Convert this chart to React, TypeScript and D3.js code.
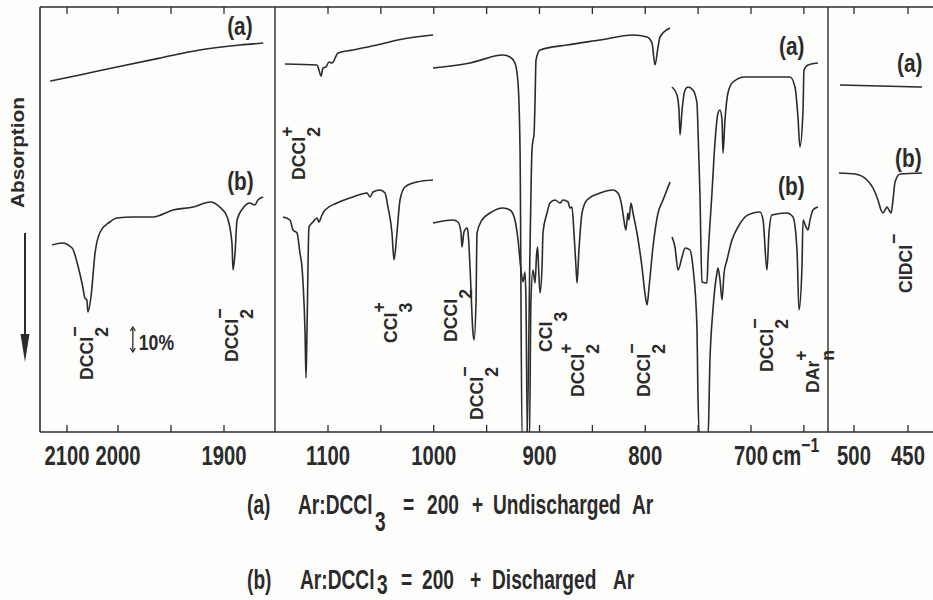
import React from "react";
import * as d3 from "d3";

const INK = "#2b2b2b";
const FONT = "'Liberation Sans', Arial, Helvetica, sans-serif";

// ---------- axis ticks (cm-1) ----------
const p1Ticks = [2100, 2000, 1950, 1900];
const p1Labels = [2100, 2000, 1900];
const p2Ticks = [1100, 1050, 1000, 950, 900, 850, 800, 750, 700, 650];
const p2Labels = [1100, 1000, 900, 800, 700];
const p3Ticks = [500, 450];
const p3Labels = [500, 450];

// ---------- spectra: [wavenumber cm-1, signal in % (10% bar = 10 units)] ----------
const p1A = [[2133, 140.4], [2075, 142.8], [2002, 146], [1960, 149.6], [1923, 152.8], [1885, 154.8], [1863, 155.6]];
const p1B = [[2129, 74.8], [2110, 75.6], [2090, 73.6], [2078, 66], [2069, 58], [2065, 53.6], [2061, 52.8], [2059, 48], [2053, 54], [2045, 71.6], [2035, 80], [2016, 84], [2002, 85.6], [1986, 86], [1967, 86], [1948, 88.8], [1929, 90], [1913, 92], [1904, 90], [1897, 86], [1892.5, 75.6], [1891.5, 64.8], [1889.6, 71.6], [1887.7, 84.8], [1882, 89.6], [1875.5, 91.6], [1871, 90.8], [1868, 92.8], [1863, 94]];

const p2A1 = [[1140.7, 147.2], [1110.4, 146.8], [1108.5, 144.8], [1106.6, 142.4], [1104.7, 145.6], [1101.9, 146], [1099.1, 148], [1096.2, 147.6], [1090.5, 151.6], [1076.4, 152.8], [1053.7, 154.8], [1029.1, 157.2], [1000.7, 158.8]];
const p2A2 = [[1000.7, 145.6], [965.7, 147.6], [934.5, 150.8], [927.9, 150], [923.2, 147.6], [920.3, 139.6], [918.4, 112.8], [916.5, -3], [911.8, -3], [909, 72.8], [907.1, 112.8], [906.1, 116.8], [905.2, 118.8], [904.2, 132.8], [903.3, 148.8], [899.5, 152.8], [874, 154.8], [842.8, 156.8], [811.6, 158.8], [798.3, 158], [793.6, 155.6], [790.8, 146.8], [787.9, 154], [786, 158], [776.6, 161.6]];
const p2A3 = [[774.7, 138], [770, 134.8], [768.1, 128.8], [767.1, 118.8], [765.2, 128.8], [762.4, 136.8], [759.6, 138], [754.9, 136.8], [751.1, 131.6], [750.2, 122], [748.3, 95.6], [746.4, 60], [741.6, 59.6], [740.7, 68.8], [736.9, 95.6], [734.1, 115.6], [731.2, 127.6], [729.3, 128.8], [727.4, 124.8], [726.5, 111.6], [724.6, 124.8], [721.8, 135.6], [717, 140], [705.7, 142], [663.1, 142], [658.4, 138], [655.6, 126], [653.7, 114], [650.8, 128.8], [649.9, 144.8], [646.1, 146.8], [636.7, 147.6]];

const p2B1 = [[1142.6, 86], [1135.9, 84.8], [1133.1, 80.8], [1129.3, 79.6], [1126.5, 71.6], [1124.6, 66], [1123.6, 59.6], [1121.7, 39.6], [1120.8, 21.6], [1119.9, 39.6], [1118, 82], [1114.2, 84], [1110.4, 85.6], [1108.5, 84], [1105.7, 86.8], [1102.8, 88.8], [1091.5, 91.6], [1076.4, 94], [1063.1, 95.6], [1060.3, 94], [1057.4, 96], [1050.8, 96.8], [1046.1, 95.6], [1043.3, 90], [1039.5, 79.6], [1037.6, 68.8], [1034.8, 79.6], [1031.9, 92.8], [1027.2, 98], [1015.8, 100], [1000.7, 100.8]];
const p2B2 = [[1000.7, 83.6], [981.8, 84.8], [977.1, 84], [974.2, 79.6], [973.3, 74], [971.4, 80], [968.6, 81.6], [967.6, 80], [965.7, 66], [962.9, 39.6], [961.9, 36.8], [960, 52.8], [959.1, 79.6], [954.4, 84.8], [946.8, 87.6], [934.5, 89.6], [927.9, 88.8], [923.2, 84.8], [920.3, 76.8], [917.5, 64.8], [915.6, 60], [913.7, 64], [912.8, 52.8], [911.4, -3], [909.5, -3], [908.1, 52.8], [906.1, 64.8], [904.2, 59.6], [902.8, 70.8], [901.8, 74], [900.9, 66], [899.5, 55.6], [897.6, 66], [896.7, 79.6], [892.9, 87.6], [890.1, 91.6], [885.3, 92.8], [880.6, 91.6], [877.8, 92.8], [873, 92], [871.2, 89.6], [869.3, 90], [867.4, 79.6], [865.5, 66], [864.5, 59.6], [862.7, 72.8], [859.8, 87.6], [855.1, 92.8], [842.8, 95.6], [830.5, 96.8], [825.8, 95.6], [822, 90], [820.2, 84.8], [818.3, 80.8], [816.4, 87.6], [815.4, 84.8], [813.5, 91.6], [811.6, 87.6], [807.8, 79.6], [803.1, 66], [800.3, 55.6], [798.3, 50.8], [796.4, 58], [792.7, 74], [787.9, 87.6], [783.2, 92.8], [776.6, 100]];
const p2B3 = [[774.7, 78], [771.9, 74], [769, 64.8], [765.2, 70], [762.4, 73.6], [757.7, 72.8], [754.9, 66], [751.1, 42], [750.2, 15.6], [748.3, -3], [740.7, -3], [738.8, 28.8], [736, 48.8], [732.2, 63.6], [731.2, 65.6], [729.3, 60.8], [727.4, 52.8], [725.5, 63.6], [722.7, 68.8], [718, 76.8], [712.3, 82], [705.7, 86], [698.1, 87.6], [691.5, 88], [688.6, 84.8], [684.9, 64.8], [683, 79.6], [680.2, 86.8], [666, 87.6], [660.3, 86], [656.5, 72.8], [654.6, 48.8], [651.8, 66], [650.8, 84.8], [648, 82], [646.1, 80.8], [644.2, 84.8], [641.4, 88.8], [636.7, 90]];

const p3A = [[513, 138.8], [476, 138.4], [437, 138]];
const p3B = [[513.9, 103.6], [499.1, 103.2], [488, 100.8], [482.4, 97.6], [477.8, 92.8], [475, 88.8], [473.1, 87.6], [471.3, 88.8], [469.4, 90], [467.6, 88.8], [465.7, 87.6], [463.9, 92.8], [462, 100], [457.4, 103.2], [437, 103.6]];

// band assignments: [panel, wavenumber, signal, base, sub, sup]
const bandLabels = [
  [1, 2049, 20.8, "DCCl", "2", "\u2212"],
  [1, 1887, 28, "DCCl", "2", "\u2212"],
  [2, 1121.7, 100.8, "DCCl", "2", "+"],
  [2, 1034.8, 35.6, "CCl", "3", "+"],
  [2, 978, 36, "DCCl", "2", ""],
  [2, 953.4, 4.8, "DCCl", "2", "\u2212"],
  [2, 888.2, 32, "CCl", "3", ""],
  [2, 857.9, 14, "DCCl", "2", "+"],
  [2, 795.5, 14, "DCCl", "2", "\u2212"],
  [2, 679.2, 24, "DCCl", "2", "\u2212"],
  [2, 635.7, 15.6, "DAr", "n", "+"],
  [3, 446.3, 55.6, "ClDCl", "", "\u2212"],
];
// trace labels: [panel, wavenumber, signal, text]
const traceLabels = [
  [1, 1897, 158.8, "(a)"], [1, 1897, 96.8, "(b)"],
  [2, 673.5, 150.8, "(a)"], [2, 674.4, 94.8, "(b)"],
  [3, 460.2, 144, "(a)"], [3, 462, 106, "(b)"],
];
// legend rows: [text, x, baseline shift]
const legendA = [["(a)", 247, 0], ["Ar:DCCl", 298, 0], ["3", 375, 17], ["=", 403, 0], ["200", 427, 0], ["+", 472, 0], ["Undischarged", 493, 0], ["Ar", 632, 0]];
const legendB = [["(b)", 247, 0], ["Ar:DCCl", 300, 0], ["3", 377, 5], ["=", 401, 0], ["200", 422, 0], ["+", 470, 0], ["Discharged", 492, 0], ["Ar", 613, 0]];

// ---------- scales ----------
const x1 = d3.scaleLinear().domain([2100, 2000, 1900]).range([67, 118, 224]);
const x2 = d3.scaleLinear().domain([1100, 700]).range([328, 751]);
const x3 = d3.scaleLinear().domain([500, 450]).range([854, 908]);
const y = d3.scaleLinear().domain([0, 170]).range([432, 7]);
const xs: any = { 1: x1, 2: x2, 3: x3 };

const FR = { left: 40, right: 933, top: 7, bottom: 432 };
const DIVIDERS = [275, 828];

const panels = [
  { sc: x1, ticks: p1Ticks, labels: p1Labels, series: [p1A, p1B] },
  { sc: x2, ticks: p2Ticks, labels: p2Labels, series: [p2A1, p2A2, p2A3, p2B1, p2B2, p2B3] },
  { sc: x3, ticks: p3Ticks, labels: p3Labels, series: [p3A, p3B] },
];

function SText({ x, y, sx = 0.75, size = 27, anchor = "start", children }: any) {
  return (
    <text transform={`translate(${x},${y}) scale(${sx},1)`} textAnchor={anchor} fontSize={size}
      fontFamily={FONT} fontWeight="bold" fill={INK}>{children}</text>
  );
}

function RotLabel({ x, y, base, sub, sup }: any) {
  const fs = 19;
  const subDy = 15;
  const supDy = -12;
  const subW = sub === "n" ? 0.611 * fs : 0.556 * fs;
  return (
    <text transform={`translate(${x},${y}) rotate(-90) scale(0.93,1)`} fontSize={fs}
      fontFamily={FONT} fontWeight="bold" fill={INK}>
      {base}
      {sub ? <tspan dy={subDy}>{sub}</tspan> : null}
      {sup ? <tspan dx={sub ? -subW : 1} dy={sub ? supDy - subDy : supDy}>{sup}</tspan> : null}
    </text>
  );
}

function LegendRow({ items, base }: any) {
  const sx = 0.71;
  return (
    <text transform={`scale(${sx},1)`} fontSize={27} fontFamily={FONT} fontWeight="bold" fill={INK}>
      {items.map((it: any, i: number) => (
        <tspan key={i} x={it[1] / sx} y={base + it[2]}>{it[0]}</tspan>
      ))}
    </text>
  );
}

export default function App() {
  const mk = (sc: any) =>
    d3.line<number[]>().x((d) => sc(d[0])).y((d) => y(d[1])).curve(d3.curveMonotoneX);

  const tickLabelY = 465;
  const barX = x1(1986);

  return (
    <svg width={933} height={600} style={{ position: "absolute", left: 0, top: 0, background: "#fdfdfb" }}>
      <defs>
        <clipPath id="plotclip">
          <rect x={FR.left} y={FR.top} width={FR.right - FR.left} height={FR.bottom - FR.top} />
        </clipPath>
      </defs>

      {/* frame */}
      <g stroke={INK} strokeWidth={1.6} fill="none">
        <line x1={FR.left} y1={FR.top} x2={FR.right} y2={FR.top} />
        <line x1={FR.left} y1={FR.bottom} x2={FR.right} y2={FR.bottom} />
        <line x1={FR.left} y1={FR.top} x2={FR.left} y2={FR.bottom} />
        {DIVIDERS.map((d) => (
          <line key={d} x1={d} y1={FR.top} x2={d} y2={FR.bottom} strokeWidth={1.4} />
        ))}
      </g>

      {/* ticks and tick labels */}
      {panels.map((p, i) => (
        <g key={i}>
          {p.ticks.map((t) => (
            <g key={t} stroke={INK} strokeWidth={1.3}>
              <line x1={p.sc(t)} x2={p.sc(t)} y1={FR.top} y2={FR.top + 7} />
              <line x1={p.sc(t)} x2={p.sc(t)} y1={FR.bottom} y2={FR.bottom - 7} />
            </g>
          ))}
          {p.labels.map((t) => (
            <SText key={t} x={p.sc(t)} y={tickLabelY} anchor="middle">{String(t)}</SText>
          ))}
        </g>
      ))}
      <SText x={772} y={tickLabelY}>
        cm<tspan dy={-13} fontSize={21}>{"\u22121"}</tspan>
      </SText>

      {/* spectra */}
      <g clipPath="url(#plotclip)" fill="none" stroke={INK} strokeWidth={1.6} strokeLinejoin="round">
        {panels.map((p, i) =>
          p.series.map((s, j) => <path key={i + "-" + j} d={mk(p.sc)(s as any) || ""} />)
        )}
      </g>

      {/* trace labels */}
      {traceLabels.map((l: any, i) => (
        <SText key={i} x={xs[l[0]](l[1])} y={y(l[2])} sx={0.8} size={26}>{l[3]}</SText>
      ))}

      {/* band labels */}
      {bandLabels.map((l: any, i) => (
        <RotLabel key={i} x={xs[l[0]](l[1])} y={y(l[2])} base={l[3]} sub={l[4]} sup={l[5]} />
      ))}

      {/* 10% scale bar */}
      <g stroke={INK} strokeWidth={1.3} fill="none">
        <line x1={barX} x2={barX} y1={y(32)} y2={y(42)} />
        <path d={`M${barX - 2.5},${y(42) + 4} L${barX},${y(42)} L${barX + 2.5},${y(42) + 4}`} />
        <path d={`M${barX - 2.5},${y(32) - 4} L${barX},${y(32)} L${barX + 2.5},${y(32) - 4}`} />
      </g>
      <SText x={barX + 6} y={y(32) - 2} sx={0.8} size={22}>10%</SText>

      {/* y-axis title and arrow */}
      <text transform="translate(24,208) rotate(-90)" textLength={111} lengthAdjust="spacingAndGlyphs"
        fontSize={19} fontFamily={FONT} fontWeight="bold" fill={INK}>Absorption</text>
      <line x1={25} x2={25} y1={233} y2={340} stroke={INK} strokeWidth={2} />
      <path d="M20.5,334 L29.5,334 L25,362 Z" fill={INK} />

      {/* legend */}
      <LegendRow items={legendA} base={514} />
      <LegendRow items={legendB} base={589} />
    </svg>
  );
}
